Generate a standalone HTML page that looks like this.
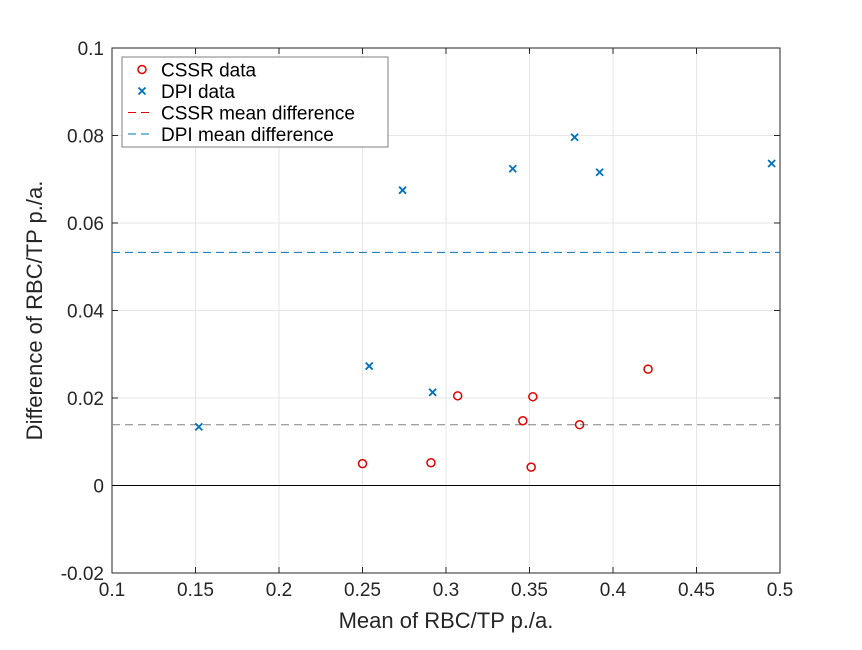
<!DOCTYPE html>
<html><head><meta charset="utf-8"><style>
body{margin:0;background:#fff;}
svg text{font-family:"Liberation Sans",sans-serif;}
</style></head><body>
<svg id="chart" width="862" height="645" xmlns="http://www.w3.org/2000/svg"></svg>
<script>
const xTicks=[0.1,0.15,0.2,0.25,0.3,0.35,0.4,0.45,0.5];
const yTicks=[-0.02,0,0.02,0.04,0.06,0.08,0.1];
const cssrX=[0.25,0.291,0.307,0.346,0.352,0.351,0.38,0.421];
const cssrY=[0.005,0.0052,0.0205,0.0148,0.0203,0.0042,0.0139,0.0266];
const dpiX=[0.152,0.254,0.274,0.292,0.34,0.377,0.392,0.495];
const dpiY=[0.0134,0.0273,0.0675,0.0213,0.0724,0.0796,0.0716,0.0736];
const cssrMean=0.0139;
const dpiMean=0.0533;

const L=112,R=780,T=48,B=573;
const sx=v=>L+(v-0.1)/0.4*(R-L);
const sy=v=>B-(v+0.02)/0.12*(B-T);
const svg=document.getElementById('chart');
const NS='http://www.w3.org/2000/svg';
function mk(tag,attrs,parent){const e=document.createElementNS(NS,tag);for(const k in attrs)e.setAttribute(k,attrs[k]);(parent||svg).appendChild(e);return e;}

xTicks.forEach(t=>{const e=mk('line',{x1:sx(t),x2:sx(t),y1:T,y2:B,stroke:'#e6e6e6'});

});
yTicks.forEach(t=>{const e=mk('line',{x1:L,x2:R,y1:sy(t),y2:sy(t),stroke:'#e6e6e6'});

});
const fr=mk('rect',{x:L,y:T,width:R-L,height:B-T,fill:'none',stroke:'#262626'});


xTicks.forEach(t=>{
 mk('line',{x1:sx(t),x2:sx(t),y1:B,y2:B-6,stroke:'#262626'});
 mk('line',{x1:sx(t),x2:sx(t),y1:T,y2:T+6,stroke:'#262626'});
 const tx=mk('text',{x:sx(t),y:B+23,'text-anchor':'middle','font-size':19,fill:'#262626'});
 tx.textContent=String(t);
 
 
});
yTicks.forEach(t=>{
 mk('line',{x1:L,x2:L+6,y1:sy(t),y2:sy(t),stroke:'#262626'});
 mk('line',{x1:R,x2:R-6,y1:sy(t),y2:sy(t),stroke:'#262626'});
 const tx=mk('text',{x:L-8,y:sy(t)+7,'text-anchor':'end','font-size':19,fill:'#262626'});
 tx.textContent=String(t);
 
 
});
const z=mk('line',{x1:L,x2:R,y1:sy(0),y2:sy(0),stroke:'#000'});


const m1=mk('line',{x1:L,x2:R,y1:sy(cssrMean),y2:sy(cssrMean),stroke:'#808080','stroke-dasharray':'8,5'});


const m2=mk('line',{x1:L,x2:R,y1:sy(dpiMean),y2:sy(dpiMean),stroke:'#0072bd','stroke-dasharray':'8,5'});


cssrX.forEach((x,i)=>{const c=mk('circle',{cx:sx(x),cy:sy(cssrY[i]),r:4,fill:'none',stroke:'#e00000','stroke-width':1.5});

});
dpiX.forEach((x,i)=>{const cx=sx(x),cy=sy(dpiY[i]),d=3.5;
const p=mk('path',{d:`M${cx-d},${cy-d}L${cx+d},${cy+d}M${cx-d},${cy+d}L${cx+d},${cy-d}`,stroke:'#0072bd','stroke-width':1.8});

});
const xt=mk('text',{x:(L+R)/2,y:628,'text-anchor':'middle','font-size':22,fill:'#262626'});
xt.textContent='Mean of RBC/TP p./a.';


const yt=mk('text',{x:0,y:0,'text-anchor':'middle','font-size':22,fill:'#262626',transform:`translate(42,${(T+B)/2}) rotate(-90)`});
yt.textContent='Difference of RBC/TP p./a.';


const lg=mk('g',{});


mk('rect',{x:122,y:57,width:266,height:90,fill:'#fff',stroke:'#7f7f7f'},lg);
const items=[['CSSR data','o'],['DPI data','x'],['CSSR mean difference','r'],['DPI mean difference','b']];
items.forEach((it,i)=>{
 const y=69.5+i*21.5;
 if(it[1]==='o')mk('circle',{cx:142,cy:y,r:4,fill:'none',stroke:'#e00000','stroke-width':1.5},lg);
 else if(it[1]==='x')mk('path',{d:`M138.5,${y-3.5}L145.5,${y+3.5}M138.5,${y+3.5}L145.5,${y-3.5}`,stroke:'#0072bd','stroke-width':1.8},lg);
 else mk('line',{x1:128,x2:154,y1:y,y2:y,stroke:it[1]==='r'?'#e00000':'#0072bd','stroke-dasharray':'8,5'},lg);
 const t=mk('text',{x:161,y:y+7,'font-size':19,fill:'#000'},lg);
 t.textContent=it[0];
 
 
});
</script>
</body></html>
